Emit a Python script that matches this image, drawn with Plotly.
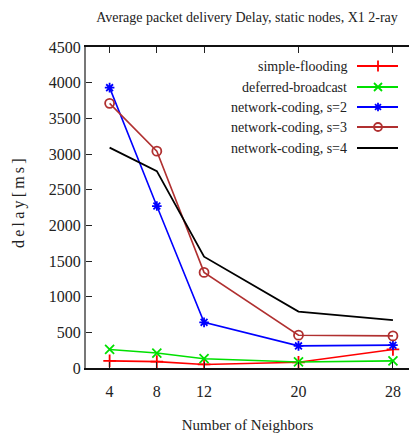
import plotly.graph_objects as go

neighbors = [4, 8, 12, 20, 28]
simple_flooding = [100, 90, 50, 80, 260]
deferred_broadcast = [260, 210, 130, 85, 100]
nc_s2 = [3930, 2270, 640, 310, 320]
nc_s3 = [3710, 3040, 1340, 460, 450]
nc_s4 = [3090, 2760, 1560, 790, 670]

names = ["simple-flooding", "deferred-broadcast", "network-coding, s=2",
         "network-coding, s=3", "network-coding, s=4"]
series = [simple_flooding, deferred_broadcast, nc_s2, nc_s3, nc_s4]
colors = ["#ff0000", "#00e000", "#0000ff", "#b03030", "#000000"]
symbols = ["cross-thin-open", "x-thin-open", "asterisk-open", "circle-open", None]
sizes = [9, 9, 8, 9, 0]

FONT = "Liberation Serif"
W, H = 409, 435
L, R, T, B = 86, 0, 47, 67

fig = go.Figure()
for name, ys, c, s, sz in zip(names, series, colors, symbols, sizes):
    if s:
        fig.add_trace(go.Scatter(x=neighbors, y=ys, mode="lines+markers", name=name,
                                 line=dict(color=c, width=1.6),
                                 marker=dict(symbol=s, size=sz, color=c,
                                             line=dict(color=c, width=1.8)),
                                 showlegend=False))
    else:
        fig.add_trace(go.Scatter(x=neighbors, y=ys, mode="lines", name=name,
                                 line=dict(color=c, width=1.8), showlegend=False))

# manual legend (text on the left, sample on the right)
pw, ph = W - L - R, H - T - B
rows_py = [66, 87, 107, 127, 148]
def px2x(p):
    return (p - L) / pw
def py2y(p):
    return (H - B - p) / ph
for name, c, s, sz, py in zip(names, colors, symbols, sizes, rows_py):
    yy = py2y(py)
    fig.add_annotation(x=px2x(349), y=yy, xref="paper", yref="paper", text=name,
                       showarrow=False, xanchor="right", yanchor="middle",
                       font=dict(family=FONT, size=14, color="#222"))
    fig.add_shape(type="line", xref="paper", yref="paper", x0=px2x(357), x1=px2x(398),
                  y0=yy, y1=yy, line=dict(color=c, width=1.8))
    if s:
        fig.add_trace(go.Scatter(x=[px2x(378)], y=[yy], xaxis="x2", yaxis="y2",
                                 mode="markers", showlegend=False, hoverinfo="skip",
                                 marker=dict(symbol=s, size=sz - 1, color=c,
                                             line=dict(color=c, width=1.8))))

# y axis title, letter-spaced as in the reference
ytitle = "\u2009".join("delay[ms]")
fig.add_annotation(x=-(L - 19) / pw, y=py2y(203), xref="paper", yref="paper",
                   text=ytitle, textangle=-90, showarrow=False,
                   xanchor="center", yanchor="middle",
                   font=dict(family=FONT, size=16, color="#222"))

fig.update_layout(
    width=W, height=H,
    margin=dict(l=L, r=R, t=T, b=B),
    paper_bgcolor="white", plot_bgcolor="white",
    font=dict(family=FONT, size=15, color="#222"),
    title=dict(text="Average packet delivery Delay, static nodes, X1 2-ray",
               x=247 / W, xanchor="center", y=1 - 17 / H, yanchor="middle",
               font=dict(family=FONT, size=14, color="#222")),
    xaxis=dict(range=[2.0, 29.36], tickvals=neighbors, ticks="inside", ticklen=6,
               tickcolor="#222", showline=True, linecolor="#111", linewidth=2,
               mirror="ticks", showgrid=False, zeroline=False,
               ticklabelstandoff=8,
               title=dict(text="Number of Neighbors", standoff=20,
                          font=dict(family=FONT, size=15)),
               tickfont=dict(family=FONT, size=16)),
    yaxis=dict(range=[0, 4500], dtick=500, ticks="inside", ticklen=6,
               tickcolor="#222", showline=True, linecolor="#777", linewidth=2,
               showgrid=False, zeroline=False,
               tickfont=dict(family=FONT, size=16)),
    xaxis2=dict(overlaying="x", range=[0, 1], visible=False),
    yaxis2=dict(overlaying="y", range=[0, 1], visible=False),
)

fig.write_html("out.html")
